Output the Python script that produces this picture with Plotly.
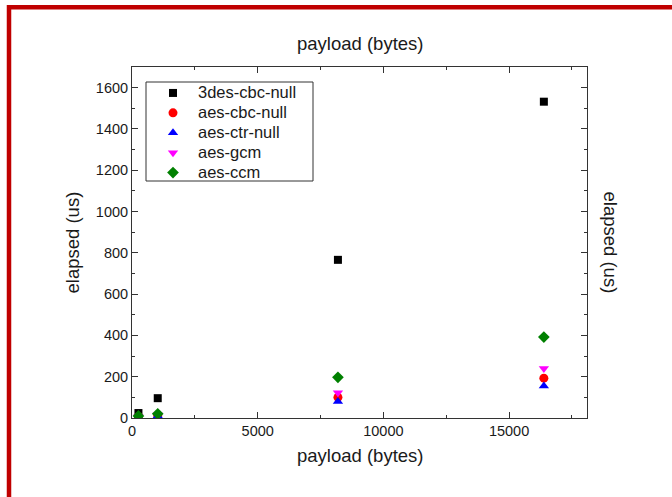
import plotly.graph_objects as go

payload = [256, 1024, 8192, 16384]
series_names = ["3des-cbc-null", "aes-cbc-null", "aes-ctr-null", "aes-gcm", "aes-ccm"]
des3_cbc = [24, 96, 766, 1532]
aes_cbc = [6, 12, 100, 193]
aes_ctr = [5, 10, 80, 155]
aes_gcm = [7, 14, 122, 240]
aes_ccm = [10, 20, 197, 392]

values = [des3_cbc, aes_cbc, aes_ctr, aes_gcm, aes_ccm]
symbols = ["square", "circle", "triangle-up", "triangle-down", "diamond"]
colors = ["#000000", "#FF0000", "#0000FF", "#FF00FF", "#008000"]
sizes = [8, 9, 9, 9, 9]

W, H = 672, 497
L, R, T, B = 132, 85, 67, 79
PW, PH = W - L - R, H - T - B

def px_x(px):
    return (px - L) / PW

def px_y(py):
    return (H - B - py) / PH

FONT = "Liberation Sans, Arial, sans-serif"
TXT = "#1a1a1a"

fig = go.Figure()
for name, vals, sym, col, sz in zip(series_names, values, symbols, colors, sizes):
    fig.add_trace(go.Scatter(
        x=payload, y=vals, mode="markers",
        name="<span style='font-size:16.5px'>" + name + "</span>",
        marker=dict(symbol=sym, color=col, size=sz, line=dict(width=0)),
    ))

axis_common = dict(
    showline=True, linecolor="#333333", linewidth=1, mirror="allticks",
    ticks="inside", ticklen=6, tickwidth=1, tickcolor="#333333",
    showgrid=False, zeroline=False,
    tickfont=dict(family=FONT, size=14.5, color=TXT),
)

fig.update_xaxes(range=[0, 18100], dtick=5000, tick0=0, tickformat="d",
                 minor=dict(ticks="inside", ticklen=3, dtick=2500, tickcolor="#333333", showgrid=False),
                 **axis_common)
fig.update_yaxes(range=[0, 1700], dtick=200, tick0=0, tickformat="d",
                 minor=dict(ticks="inside", ticklen=3, dtick=100, tickcolor="#333333", showgrid=False),
                 **axis_common)

title_font = dict(family=FONT, size=18.5, color=TXT)
annotations = [
    dict(text="payload (bytes)", x=0.5, y=px_y(43), xref="paper", yref="paper",
         showarrow=False, xanchor="center", yanchor="middle", font=title_font),
    dict(text="payload (bytes)", x=0.5, y=px_y(455), xref="paper", yref="paper",
         showarrow=False, xanchor="center", yanchor="middle", font=title_font),
    dict(text="elapsed (us)", x=px_x(72), y=0.5, xref="paper", yref="paper",
         showarrow=False, xanchor="center", yanchor="middle", textangle=-90, font=title_font),
    dict(text="elapsed (us)", x=px_x(610), y=0.5, xref="paper", yref="paper",
         showarrow=False, xanchor="center", yanchor="middle", textangle=90, font=title_font),
]

shapes = [
    # legend frame
    dict(type="rect", xref="paper", yref="paper",
         x0=px_x(146), x1=px_x(313), y0=px_y(181), y1=px_y(82),
         line=dict(color="#333333", width=1), fillcolor="white", layer="below"),
    # red page border
    dict(type="rect", xref="paper", yref="paper",
         x0=px_x(9), x1=px_x(690), y0=px_y(515), y1=px_y(7.3),
         line=dict(color="#C00000", width=4.5), fillcolor="rgba(0,0,0,0)", layer="above"),
]

fig.update_layout(
    width=W, height=H,
    margin=dict(l=L, r=R, t=T, b=B),
    paper_bgcolor="white", plot_bgcolor="white",
    showlegend=True,
    legend=dict(x=px_x(148), y=px_y(78), xanchor="left", yanchor="top",
                bgcolor="rgba(0,0,0,0)", borderwidth=0,
                font=dict(family=FONT, size=13, color=TXT),
                itemwidth=40, tracegroupgap=0),
    annotations=annotations,
    shapes=shapes,
)

fig.write_html("out.html", config={"displayModeBar": False},
               post_script="document.body.style.margin='0';")
